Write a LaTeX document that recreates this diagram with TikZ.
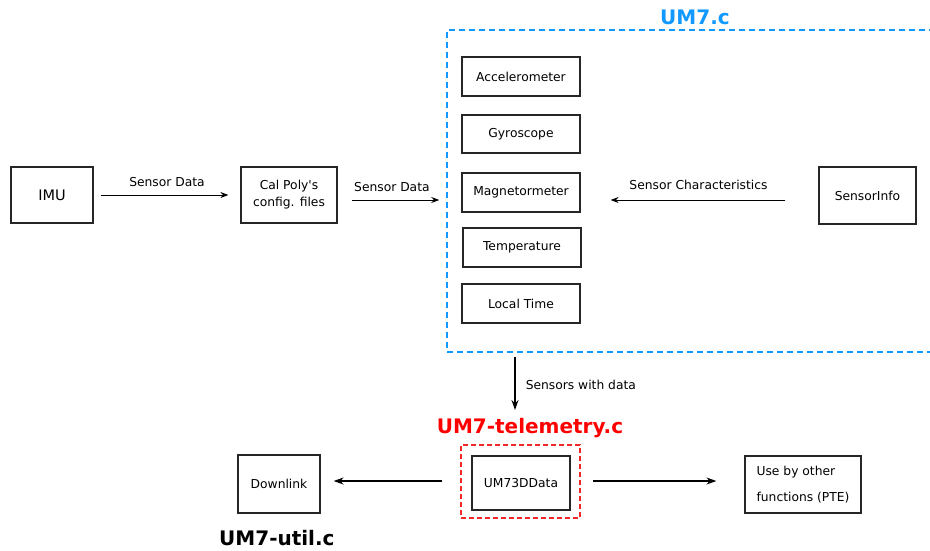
\documentclass[tikz,border=0pt]{standalone}
\usepackage{fontspec}
\setmainfont{DejaVu Sans}
\usetikzlibrary{arrows.meta}
\definecolor{umblue}{RGB}{17,153,255}
\definecolor{umred}{RGB}{255,0,0}
\definecolor{dashred}{RGB}{240,40,40}
\begin{document}
\begin{tikzpicture}[x=1pt,y=-1pt,
  box/.style={draw=black!85, line width=1.2pt, inner sep=0pt, align=center,
    font=\fontsize{12.3}{17}\selectfont},
  lbl/.style={font=\fontsize{12.3}{14}\selectfont, inner sep=0pt},
  ttl/.style={font=\fontsize{20}{24}\selectfont\bfseries, inner sep=0pt},
  arr/.style={draw=black, line width=0.9pt, -{Stealth[length=8pt,width=6pt]}},
  arrB/.style={draw=black, line width=1.5pt, -{Stealth[length=10pt,width=7pt]}},
  frameB/.style={draw=umblue, line width=1.5pt, dash pattern=on 6pt off 4pt},
  frameR/.style={draw=dashred, line width=1.5pt, dash pattern=on 5pt off 3pt}
]
\useasboundingbox (0,0) rectangle (930,550);

% UM7.c frame
\node[frameB, minimum width=493pt, minimum height=322pt, inner sep=0pt] (um7) at (693.5,191) {};
\node[ttl, text=umblue] (um7t) at (695,17) {UM7.c};

% left chain
\node[box, minimum width=82pt, minimum height=56pt, font=\fontsize{14.5}{17}\selectfont] (imu) at (52,195) {IMU};
\node[box, minimum width=96pt, minimum height=56pt] (cal) at (289,195) {Cal Poly\textquotesingle s\\config. files};

% sensors
\node[box, minimum width=118pt, minimum height=39pt] (acc) at (521,76.5) {Accelerometer};
\node[box, minimum width=118pt, minimum height=38pt] (gyr) at (521,134) {Gyroscope};
\node[box, minimum width=118pt, minimum height=39pt] (mag) at (521,192.5) {Magnetormeter};
\node[box, minimum width=118pt, minimum height=39pt] (tmp) at (522,247.5) {Temperature};
\node[box, minimum width=118pt, minimum height=39pt] (lt) at (521,303.5) {Local Time};
\node[box, minimum width=97pt, minimum height=57pt] (si) at (867.5,195.5) {SensorInfo};

% bottom
\node[ttl, text=umred] (telt) at (530,428) {UM7-telemetry.c};
\node[frameR, minimum width=119pt, minimum height=73pt, inner sep=0pt] (red) at (520.5,481.5) {};
\node[box, minimum width=98pt, minimum height=54pt] (u3d) at (521,483) {UM73DData};
\node[box, minimum width=82pt, minimum height=58pt] (dl) at (279,484) {Downlink};
\node[box, minimum width=116pt, minimum height=57pt, align=left,
  font=\fontsize{12.3}{26}\selectfont] (use) at (803,484.5) {Use by other\\functions (PTE)};
\node[ttl, text=black, anchor=west] (utilt) at (219,538) {UM7-util.c};

% connectors
\coordinate (y200) at (0,200);
\coordinate (y481) at (0,481);
\draw[arr, shorten <=7pt, shorten >=12pt] (imu) -- node[lbl, above=8pt] {Sensor Data} (cal);
\draw[arr, shorten <=14pt, shorten >=7pt] (cal.east |- y200) -- node[lbl, above=8pt] {Sensor Data} (um7.west |- y200);
\draw[arr, shorten <=33pt, shorten >=30pt] (si.west |- y200) -- node[lbl, above=10pt, xshift=-1pt] {Sensor Characteristics} (mag.east |- y200);

\coordinate (dtop) at (515,357);
\coordinate (dbot) at (515,410);
\draw[arrB] (dtop) -- node[lbl, right=10pt, yshift=-1pt] {Sensors with data} (dbot);
\draw[arrB, shorten <=18pt, shorten >=13pt] (red.west |- y481) -- (dl.east |- y481);
\draw[arrB, shorten <=12pt, shorten >=28pt] (red.east |- y481) -- (use.west |- y481);
\end{tikzpicture}
\end{document}
